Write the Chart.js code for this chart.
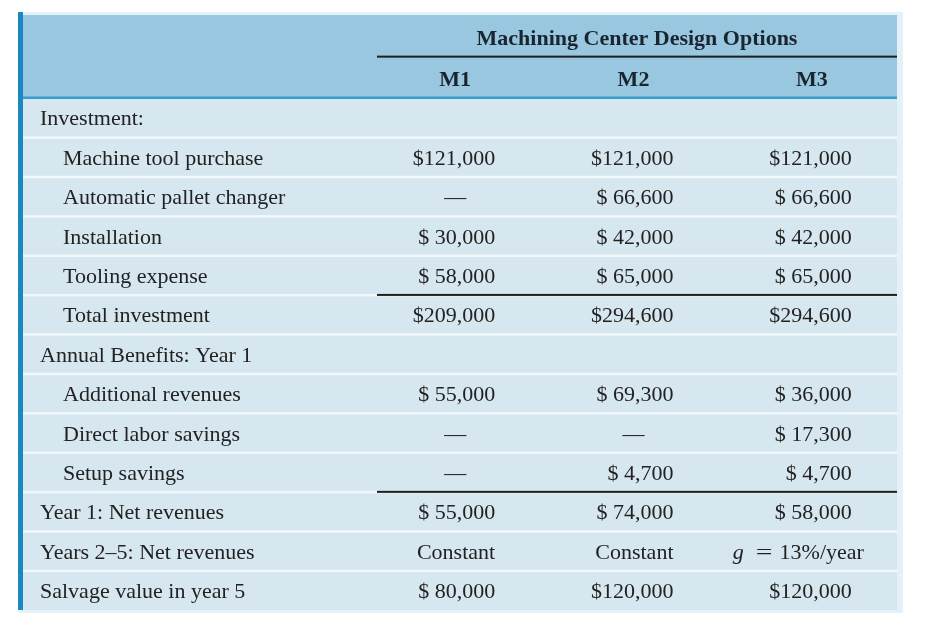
<!DOCTYPE html>
<html>
<head>
<meta charset="utf-8">
<script src="https://cdn.jsdelivr.net/npm/chart.js@4.4.1/dist/chart.umd.min.js"></script>
<style>
  html, body { margin: 0; padding: 0; background: #ffffff; }
</style>
</head>
<body>
<canvas id="table" width="927" height="637"></canvas>
<script>
// table content
var title = 'Machining Center Design Options';
var designs = ['M1', 'M2', 'M3'];
var items = [
    'Investment:',
    'Machine tool purchase',
    'Automatic pallet changer',
    'Installation',
    'Tooling expense',
    'Total investment',
    'Annual Benefits: Year 1',
    'Additional revenues',
    'Direct labor savings',
    'Setup savings',
    'Year 1: Net revenues',
    'Years 2–5: Net revenues',
    'Salvage value in year 5'
];
var subItems = [false, true, true, true, true, true, false, true, true, true, false, false, false];
var ruleAbove = ['Total investment', 'Year 1: Net revenues'];

// null = no entry, 0 = shown as a dash
var m1 = [null, 121000, 0, 30000, 58000, 209000, null, 55000, 0, 0, 55000, 'Constant', 80000];
var m2 = [null, 121000, 66600, 42000, 65000, 294600, null, 69300, 0, 4700, 74000, 'Constant', 120000];
var m3 = [null, 121000, 66600, 42000, 65000, 294600, null, 36000, 17300, 4700, 58000, 'g = 13%/year', 120000];

var FONT = '"Liberation Serif", "Times New Roman", serif';
var TEXT = '#222222';
var HEAD = '#1a2530';
var DY = 2;   // serif glyphs sit a little low in the reference

function money(v) {
    if (typeof v === 'string') return v;
    if (v === 0) return '—';
    var s = v.toLocaleString('en-US');
    return v < 100000 ? '$ ' + s : '$' + s;
}

function cells(name, values) {
    var out = [];
    for (var i = 0; i < values.length; i++) {
        if (values[i] === null) continue;
        out.push({x: name, y: items[i], v: values[i]});
    }
    return out;
}

var tablePlugin = {
    id: 'tablePlugin',
    beforeDraw: function (chart) {
        var ctx = chart.ctx;
        var area = chart.chartArea;
        var y = chart.scales.y;
        var row = y.getPixelForValue(1) - y.getPixelForValue(0);
        var left = 18, right = area.right - 8, ruleLeft = area.left + 7;
        var top = 12;

        ctx.save();
        // pale frame around the table
        ctx.fillStyle = '#e4f1f8';
        ctx.fillRect(left, top, right - left + 6, area.bottom - top + 3);
        // header band
        ctx.fillStyle = '#98c7df';
        ctx.fillRect(left, top + 3, right - left, area.top - top - 3);
        // body
        ctx.fillStyle = '#d6e7f0';
        ctx.fillRect(left, area.top, right - left, area.bottom - area.top);

        // white row separators
        ctx.fillStyle = '#f1f8fb';
        for (var i = 1; i < items.length; i++) {
            var yb = y.getPixelForValue(i) - row / 2;
            ctx.fillRect(left, yb - 1, right - left, 2.5);
        }

        // rule under the header
        ctx.fillStyle = '#3a9dd0';
        ctx.fillRect(left, area.top - 1.5, right - left, 2.5);

        // dark rules: under the title and above totals
        ctx.fillStyle = '#1e1e1e';
        ctx.fillRect(ruleLeft, area.top - row * 1.05 - 1, right - ruleLeft, 2);
        ruleAbove.forEach(function (name) {
            var yr = y.getPixelForValue(items.indexOf(name)) - row / 2;
            ctx.fillRect(ruleLeft, yr - 1, right - ruleLeft, 2);
        });

        // blue bar on the left
        ctx.fillStyle = '#1b88c1';
        ctx.fillRect(left, top, 5, area.bottom - top);
        ctx.restore();
    },
    afterDatasetsDraw: function (chart) {
        var ctx = chart.ctx;
        var area = chart.chartArea;
        var x = chart.scales.x;
        var y = chart.scales.y;
        var row = y.getPixelForValue(1) - y.getPixelForValue(0);
        var right = area.right - 8, ruleLeft = area.left + 7;

        ctx.save();
        ctx.textBaseline = 'middle';

        // header
        ctx.fillStyle = HEAD;
        ctx.font = 'bold 22px ' + FONT;
        ctx.textAlign = 'center';
        ctx.fillText(title, (ruleLeft + right) / 2, area.top - row * 1.55 + DY);
        designs.forEach(function (d, i) {
            ctx.fillText(d, x.getPixelForValue(i) - 4, area.top - row * 0.5 + DY);
        });

        // row labels
        ctx.fillStyle = TEXT;
        ctx.font = '22px ' + FONT;
        ctx.textAlign = 'left';
        items.forEach(function (label, i) {
            ctx.fillText(label, subItems[i] ? 63 : 40, y.getPixelForValue(i) + DY);
        });

        // cell values, placed on the points of each dataset
        chart.data.datasets.forEach(function (ds, d) {
            var meta = chart.getDatasetMeta(d);
            meta.data.forEach(function (el, j) {
                var s = money(ds.data[j].v);
                var ty = el.y + DY;
                ctx.font = '22px ' + FONT;
                if (s === '—') {
                    ctx.textAlign = 'center';
                    ctx.fillText(s, el.x - 4, ty);
                } else if (s.indexOf('g = ') === 0) {
                    // math style: italic g, wide equals sign
                    var x0 = el.x - 83;
                    ctx.textAlign = 'left';
                    ctx.font = 'italic 22px ' + FONT;
                    ctx.fillText('g', x0, ty);
                    x0 += ctx.measureText('g').width + 12;
                    ctx.font = '22px ' + FONT;
                    ctx.save();
                    ctx.translate(x0, ty);
                    ctx.scale(1.35, 1);
                    ctx.fillText('=', 0, 0);
                    ctx.restore();
                    x0 += ctx.measureText('=').width * 1.35 + 7;
                    ctx.fillText(s.slice(4), x0, ty);
                } else {
                    ctx.textAlign = 'right';
                    ctx.fillText(s, el.x + 36, ty);
                }
            });
        });
        ctx.restore();
    }
};

new Chart(document.getElementById('table'), {
    type: 'scatter',
    data: {
        datasets: [
            {label: 'M1', data: cells('M1', m1), pointRadius: 0},
            {label: 'M2', data: cells('M2', m2), pointRadius: 0},
            {label: 'M3', data: cells('M3', m3), pointRadius: 0}
        ]
    },
    options: {
        responsive: false,
        animation: false,
        devicePixelRatio: 1,
        events: [],
        layout: {
            padding: {left: 370, right: 22, top: 98, bottom: 27}
        },
        scales: {
            x: {type: 'category', labels: designs, offset: true, display: false},
            y: {type: 'category', labels: items, offset: true, display: false}
        },
        plugins: {
            legend: {display: false},
            tooltip: {enabled: false}
        }
    },
    plugins: [tablePlugin]
});
</script>
</body>
</html>
